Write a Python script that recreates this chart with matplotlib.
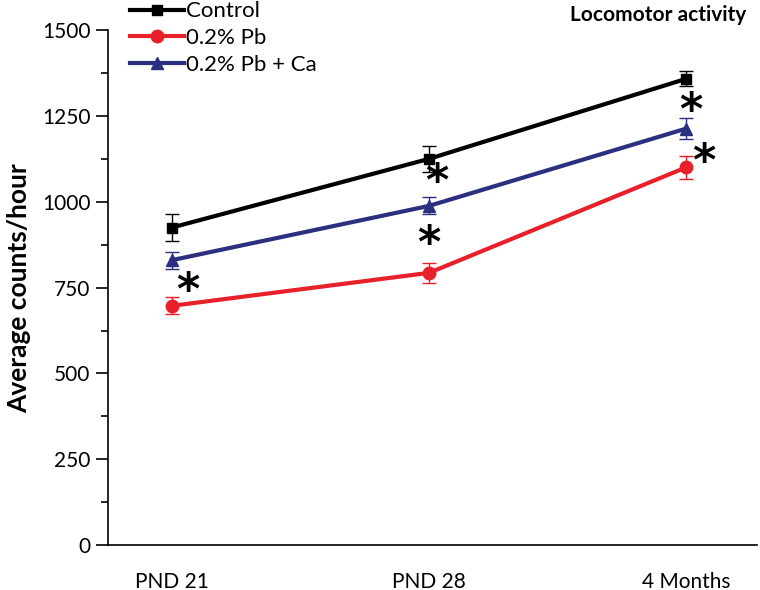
import numpy as np
import matplotlib
matplotlib.use('Agg')
import matplotlib.pyplot as plt
from matplotlib.lines import Line2D
from matplotlib.ticker import MultipleLocator

plt.rcParams['font.family'] = ['Lato', 'DejaVu Sans']

groups = ['PND 21', 'PND 28', '4 Months']
control = [925, 1125, 1358]
control_err = [38, 37, 22]
pb = [697, 793, 1100]
pb_err = [25, 29, 33]
pb_ca = [830, 988, 1213]
pb_ca_err = [25, 25, 30]

# significance asterisks (x in group units, y in counts/hour)
stars_x = [0.06, 1.03, 1.0, 2.02, 2.07]
stars_y = [740, 1055, 875, 1262, 1115]

fig = plt.figure(figsize=(7.6, 5.9), dpi=100)
ax = fig.add_axes([0.142, 0.076, 0.854, 0.873])

x = np.arange(len(groups))
series = [
    ('Control', control, control_err, 'black', 's', 7),
    ('0.2% Pb', pb, pb_err, '#e8202a', 'o', 9),
    ('0.2% Pb + Ca', pb_ca, pb_ca_err, '#2b2f80', '^', 9),
]
handles = []
for name, vals, err, col, mk, ms in series:
    ax.errorbar(x, vals, yerr=err, color=col, marker=mk, markersize=ms,
                linewidth=3, elinewidth=1, capsize=5, capthick=1)
    handles.append(Line2D([], [], color=col, marker=mk, markersize=ms,
                          linewidth=3, label=name))

for sx, sy in zip(stars_x, stars_y):
    ax.text(sx, sy, '*', fontsize=32, ha='center', va='center',
            family='DejaVu Sans', fontweight='bold')

ax.set_xlim(-0.249, 2.276)
ax.set_ylim(0, 1500)
ax.set_xticks(x)
ax.set_xticklabels(groups, fontsize=15)
ax.tick_params(axis='x', length=0, pad=19)
ax.yaxis.set_major_locator(MultipleLocator(250))
ax.yaxis.set_minor_locator(MultipleLocator(125))
ax.tick_params(axis='y', which='major', length=9, width=1.2, labelsize=15)
ax.tick_params(axis='y', which='minor', length=5, width=1.2)
ax.spines['top'].set_visible(False)
ax.spines['right'].set_visible(False)
ax.spines['left'].set_linewidth(1.2)
ax.spines['bottom'].set_linewidth(1.2)
ax.set_ylabel('Average counts/hour', fontsize=19, fontweight='bold', labelpad=8)

ax.text(0.983, 1.029, 'Locomotor activity', transform=ax.transAxes,
        fontsize=15, fontweight='bold', ha='right', va='center')
ax.legend(handles=handles, loc='upper left', bbox_to_anchor=(0.02, 1.073),
          frameon=False, fontsize=16, handlelength=2.45, handletextpad=0.1,
          labelspacing=0.3, borderaxespad=0)

fig.savefig('out.png', dpi=100)
